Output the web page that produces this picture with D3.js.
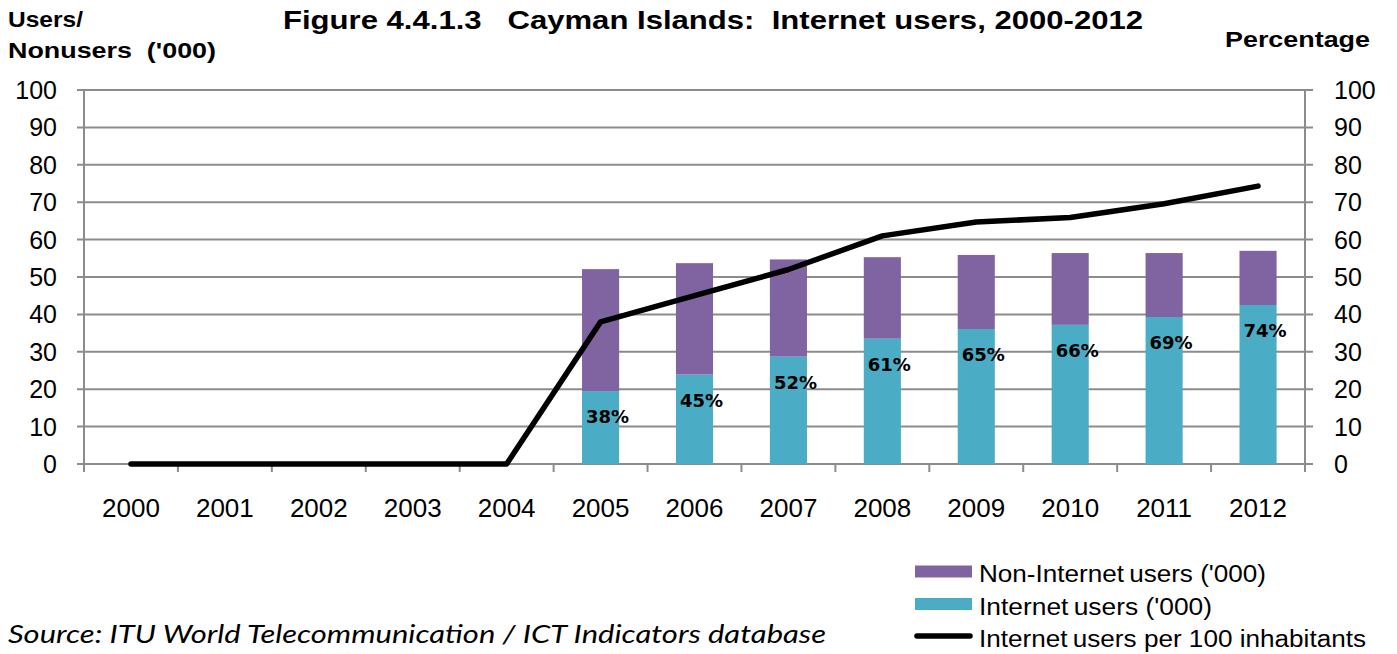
<!DOCTYPE html>
<html>
<head>
<meta charset="utf-8">
<script src="https://cdn.jsdelivr.net/npm/d3@7"></script>
<style>
  html, body { margin: 0; padding: 0; background: #fff; }
  svg { display: block; }
  text { white-space: pre; }
</style>
</head>
<body>
<svg id="chart" width="1397" height="654"></svg>
<script>
// ---- data ----
const years = ["2000","2001","2002","2003","2004","2005","2006","2007","2008","2009","2010","2011","2012"];
const internetUsers =    [null,null,null,null,null,19.5,23.9,28.7,33.5,36.1,37.2,39.3,42.5];
const nonInternetUsers = [null,null,null,null,null,32.6,29.8,26.0,21.8,19.8,19.2,17.1,14.5];
const usersPer100 =      [0,0,0,0,0,38.0,45.0,52.0,61.0,64.7,65.9,69.6,74.3];
const pctLabels =        [null,null,null,null,null,"38%","45%","52%","61%","65%","66%","69%","74%"];
const yTicks = [0,10,20,30,40,50,60,70,80,90,100];
const seriesNames = ["Non-Internet users ('000)", "Internet users ('000)", "Internet users per 100 inhabitants"];

// ---- layout ----
const colors = { non: "#8064A2", users: "#4BACC6", line: "#000000", grid: "#8C8C8C" };
const plotL = 84, plotR = 1305, plotT = 90, plotB = 464;
const svg = d3.select("#chart");
const sans = "Liberation Sans, Arial, sans-serif";

const x = d3.scaleBand().domain(years).range([plotL, plotR]).padding(0);
const yL = d3.scaleLinear().domain([0, 100]).range([plotB, plotT]);
const yR = d3.scaleLinear().domain([0, 100]).range([plotB, plotT]);
const barW = x.bandwidth() * 0.395;

// gridlines
svg.append("g").selectAll("line").data(yTicks).join("line")
  .attr("x1", plotL - 7).attr("x2", plotR + 8)
  .attr("y1", d => yL(d)).attr("y2", d => yL(d))
  .attr("stroke", colors.grid).attr("stroke-width", 2);

// axes lines
svg.append("line").attr("x1", plotL).attr("x2", plotL).attr("y1", plotT).attr("y2", plotB + 8)
  .attr("stroke", colors.grid).attr("stroke-width", 2);
svg.append("line").attr("x1", plotR).attr("x2", plotR).attr("y1", plotT).attr("y2", plotB + 8)
  .attr("stroke", colors.grid).attr("stroke-width", 2);
// x category boundary ticks
svg.append("g").selectAll("line").data(years.slice(1)).join("line")
  .attr("x1", d => x(d)).attr("x2", d => x(d))
  .attr("y1", plotB).attr("y2", plotB + 8)
  .attr("stroke", colors.grid).attr("stroke-width", 2);

// y labels
svg.append("g").selectAll("text").data(yTicks).join("text")
  .attr("x", 57).attr("y", d => yL(d)).attr("dy", "0.36em")
  .attr("text-anchor", "end")
  .attr("font-family", sans).attr("font-size", 25)
  .text(d => d);
svg.append("g").selectAll("text").data(yTicks).join("text")
  .attr("x", 1334).attr("y", d => yR(d)).attr("dy", "0.36em")
  .attr("text-anchor", "start")
  .attr("font-family", sans).attr("font-size", 25)
  .text(d => d);

// x labels
svg.append("g").selectAll("text").data(years).join("text")
  .attr("x", d => x(d) + x.bandwidth() / 2).attr("y", 517)
  .attr("text-anchor", "middle")
  .attr("font-family", sans).attr("font-size", 26)
  .text(d => d);

// stacked bars
const rows = years.map((yr, i) => ({ yr, u: internetUsers[i], n: nonInternetUsers[i], p: usersPer100[i], lab: pctLabels[i] }))
  .filter(d => d.u != null);
svg.append("g").selectAll("rect").data(rows).join("rect")
  .attr("x", d => x(d.yr) + (x.bandwidth() - barW) / 2).attr("width", barW)
  .attr("y", d => yL(d.u)).attr("height", d => yL(0) - yL(d.u))
  .attr("fill", colors.users);
svg.append("g").selectAll("rect").data(rows).join("rect")
  .attr("x", d => x(d.yr) + (x.bandwidth() - barW) / 2).attr("width", barW)
  .attr("y", d => yL(d.u + d.n)).attr("height", d => yL(d.u) - yL(d.u + d.n))
  .attr("fill", colors.non);

// line
const line = d3.line().x((d, i) => x(years[i]) + x.bandwidth() / 2).y(d => yR(d));
svg.append("path").datum(usersPer100).attr("d", line)
  .attr("fill", "none").attr("stroke", colors.line).attr("stroke-width", 5.5)
  .attr("stroke-linejoin", "round").attr("stroke-linecap", "round");

// percentage labels
svg.append("g").selectAll("text").data(rows).join("text")
  .attr("x", d => x(d.yr) + x.bandwidth() / 2 + 7).attr("y", d => yL(d.u) + 32)
  .attr("text-anchor", "middle")
  .attr("font-family", "DejaVu Sans, Verdana, sans-serif").attr("font-weight", "bold").attr("font-size", 18)
  .text(d => d.lab);

// titles (reference text is drawn horizontally wide: fit to measured widths)
function boldText(str, xPos, yPos, size, len) {
  svg.append("text").attr("x", xPos).attr("y", yPos)
    .attr("font-family", sans).attr("font-weight", "bold").attr("font-size", size)
    .attr("textLength", len).attr("lengthAdjust", "spacingAndGlyphs")
    .text(str);
}
boldText("Figure 4.4.1.3   Cayman Islands:  Internet users, 2000-2012", 283, 29, 25, 860);
boldText("Users/", 8, 27, 22, 75);
boldText("Nonusers  ('000)", 8, 58, 22, 208);
boldText("Percentage", 1225, 47, 22, 145);

// legend
const lg = svg.append("g");
const legY = [571.5, 604, 636];
const legLen = [287, 233, 387];
lg.append("rect").attr("x", 915).attr("y", legY[0] - 6).attr("width", 57).attr("height", 12).attr("fill", colors.non);
lg.append("rect").attr("x", 915).attr("y", legY[1] - 6).attr("width", 57).attr("height", 12).attr("fill", colors.users);
lg.append("line").attr("x1", 917).attr("x2", 970).attr("y1", legY[2]).attr("y2", legY[2])
  .attr("stroke", colors.line).attr("stroke-width", 5.5).attr("stroke-linecap", "round");
lg.selectAll("text.leg").data(seriesNames).join("text").attr("class", "leg")
  .attr("x", 979).attr("y", (d, i) => legY[i] + 10.5)
  .attr("font-family", sans).attr("font-size", 23)
  .attr("textLength", (d, i) => legLen[i]).attr("lengthAdjust", "spacingAndGlyphs")
  .text(d => d.replace("Internet users", "Internet\u2009users"));

// source
svg.append("text").attr("x", 8).attr("y", 643)
  .attr("font-family", "Lato, Open Sans, sans-serif").attr("font-style", "italic").attr("font-size", 25)
  .attr("textLength", 818).attr("lengthAdjust", "spacingAndGlyphs")
  .text("Source: ITU World Telecommunication / ICT Indicators database");
</script>
</body>
</html>
